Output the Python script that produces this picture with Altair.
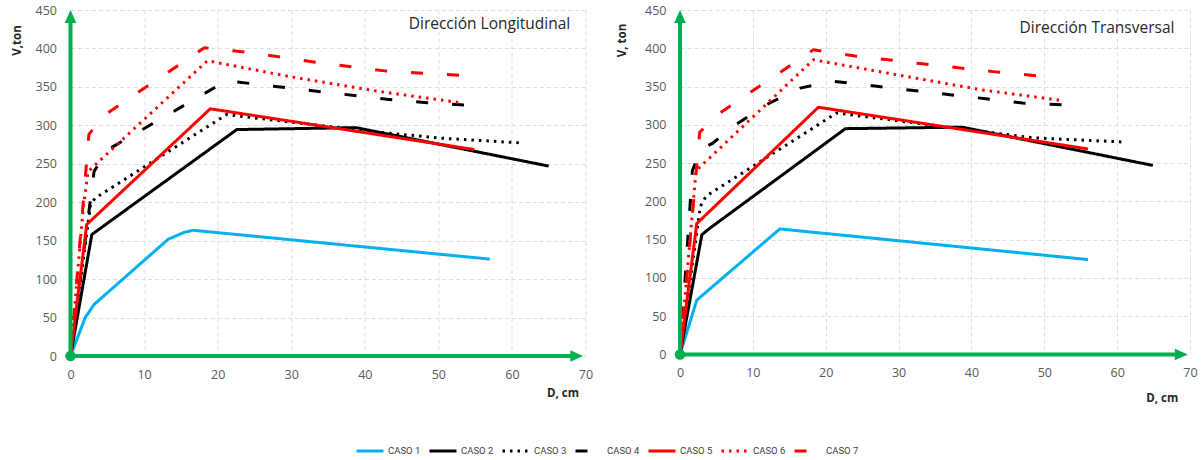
import altair as alt
import pandas as pd

# Series names and styles
CASOS = ["CASO 1", "CASO 2", "CASO 3", "CASO 4", "CASO 5", "CASO 6", "CASO 7"]
COLORES = ["#00B0F0", "#000000", "#000000", "#000000", "#FF0000", "#FF0000", "#FF0000"]
TRAZOS = [[1, 0], [1, 0], [2.5, 5], [12, 24], [1, 0], [2.5, 5], [12, 24]]

# Pushover curves, longitudinal direction: (D [cm], V [ton])
long_caso1 = [(0, 0), (2.0, 50), (3.2, 67), (13.3, 152), (15.5, 161), (16.7, 163.5), (57, 126)]
long_caso2 = [(0, 0), (2.9, 158), (22.6, 294.5), (38.8, 297), (65, 247)]
long_caso3 = [(0, 0), (2.7, 195), (3.3, 205), (21.2, 314), (40, 293), (50, 283.5), (61.5, 277)]
long_caso4 = [(0, 0), (3.2, 240), (5.0, 268), (21.2, 358), (32, 346), (43, 334), (48.5, 329.5), (54.3, 326)]
long_caso5 = [(0, 0), (2.2, 171), (19, 321.5), (54.9, 268.5)]
long_caso6 = [(0, 0), (1.7, 190), (2.4, 240), (18.6, 384), (30, 363), (42, 344), (52.9, 329.5)]
long_caso7 = [(0, 0), (2.5, 288), (4.4, 312), (18.2, 401), (24, 395), (33, 382.5), (43, 370.5), (54, 364.5)]

# Pushover curves, transverse direction: (D [cm], V [ton])
trans_caso1 = [(0, 0), (2.3, 71), (13.7, 164), (56, 124)]
trans_caso2 = [(0, 0), (3.0, 156.5), (4.1, 165), (22.7, 295), (38.7, 297), (64.9, 247)]
trans_caso3 = [(0, 0), (2.8, 194), (3.6, 207), (21.5, 315.5), (40, 293), (48.5, 283), (61, 277.5)]
trans_caso4 = [(0, 0), (1.7, 240), (2.8, 268), (4.5, 276), (7.3, 298), (11.9, 326.5), (16.5, 348),
               (21, 357), (31, 346), (42, 334), (47, 328.5), (53, 326)]
trans_caso5 = [(0, 0), (2.3, 171), (19, 323), (56, 268.5)]
trans_caso6 = [(0, 0), (2.2, 240), (18.3, 385), (30, 365), (41.2, 346), (52.2, 332)]
trans_caso7 = [(0, 0), (2.7, 290), (4.8, 311), (18.3, 398), (24, 390), (33, 380), (43, 369.5), (49.5, 363.5)]

X_MAX = 70
Y_MAX = 450
VERDE = "#00B050"
FUENTE = "Open Sans"


def tabla(curvas):
    filas = []
    for caso, puntos in zip(CASOS, curvas):
        for i, (d, v) in enumerate(puntos):
            filas.append({"caso": caso, "D": d, "V": v, "orden": i})
    return pd.DataFrame(filas)


def panel(curvas, titulo, ytitulo, ancho, alto, tx, ty, ytx, yty, xtx, xty):
    df = tabla(curvas)
    x_axis = alt.Axis(values=list(range(0, X_MAX + 1, 10)), title="D, cm", labelFlush=False,
                      titleX=xtx, titleY=xty, titleAlign="center", titleBaseline="middle")
    y_axis = alt.Axis(values=list(range(0, Y_MAX + 1, 50)), title=ytitulo, labelFlush=False,
                      titleX=ytx, titleY=yty, titleAngle=270, titleAlign="center",
                      titleBaseline="middle")
    xs = alt.Scale(domain=[0, X_MAX], nice=False)
    ys = alt.Scale(domain=[0, Y_MAX], nice=False)

    def ex():
        return alt.X("D:Q", scale=xs, axis=x_axis)

    def ey():
        return alt.Y("V:Q", scale=ys, axis=y_axis)

    lineas = alt.Chart(df).mark_line(strokeWidth=3).encode(
        x=ex(),
        y=ey(),
        color=alt.Color("caso:N", scale=alt.Scale(domain=CASOS, range=COLORES),
                        legend=alt.Legend(title=None)),
        strokeDash=alt.StrokeDash("caso:N", scale=alt.Scale(domain=CASOS, range=TRAZOS),
                                  legend=alt.Legend(title=None)),
        detail="caso:N",
        order="orden:Q",
    )

    # green axes with arrowheads and a dot at the origin
    eje_x = alt.Chart(pd.DataFrame({"D": [0], "D2": [X_MAX - 1.2], "V": [0]})).mark_rule(
        color=VERDE, strokeWidth=4).encode(x=ex(), x2="D2:Q", y=ey())
    eje_y = alt.Chart(pd.DataFrame({"D": [0], "V": [0], "V2": [Y_MAX - 12]})).mark_rule(
        color=VERDE, strokeWidth=4).encode(x=ex(), y=ey(), y2="V2:Q")
    flecha_x = alt.Chart(pd.DataFrame({"D": [X_MAX - 0.3], "V": [0]})).mark_point(
        shape="M0,0L-2,-0.9L-2,0.9Z", filled=True, color=VERDE, opacity=1, size=169).encode(
        x=ex(), y=ey())
    flecha_y = alt.Chart(pd.DataFrame({"D": [0], "V": [Y_MAX]})).mark_point(
        shape="M0,0L-0.9,2L0.9,2Z", filled=True, color=VERDE, opacity=1, size=169).encode(
        x=ex(), y=ey())
    origen = alt.Chart(pd.DataFrame({"D": [0], "V": [0]})).mark_circle(
        color=VERDE, opacity=1, size=110).encode(x=ex(), y=ey())

    rotulo = alt.Chart(pd.DataFrame({"t": [titulo]})).mark_text(
        font=FUENTE, fontSize=15.5, color="#262626", align="center", baseline="middle").encode(
        text="t:N", x=alt.value(tx), y=alt.value(ty))

    return alt.layer(lineas, eje_x, eje_y, flecha_x, flecha_y, origen, rotulo).properties(
        width=ancho, height=alto)


izq = panel([long_caso1, long_caso2, long_caso3, long_caso4, long_caso5, long_caso6, long_caso7],
            "Dirección Longitudinal", "V,ton", 515, 346, 419, 14, -52.7, 30, 492, 37)
der = panel([trans_caso1, trans_caso2, trans_caso3, trans_caso4, trans_caso5, trans_caso6, trans_caso7],
            "Dirección Transversal", "V, ton", 510, 344.5, 417, 18, -58, 30, 481.7, 44)

chart = alt.hconcat(izq, der, spacing=94.5).properties(
    bounds="flush", padding={"left": 11.5, "top": 4, "right": 5, "bottom": 5}
).configure_view(stroke=None).configure_axis(
    domain=False, ticks=False, grid=True, gridColor="#DDDDDD", gridDash=[4, 3], gridWidth=1,
    labelFont=FUENTE, labelFontSize=12.5, labelColor="#595959",
    titleFont=FUENTE, titleFontSize=11.5, titleFontWeight="bold", titleColor="#262626",
).configure_axisY(labelPadding=14).configure_axisX(labelPadding=12).configure_legend(
    orient="none", legendX=284.5, legendY=426, direction="horizontal",
    symbolType="stroke", symbolSize=729, symbolStrokeWidth=3,
    labelFont="Roboto", labelFontSize=9.5, labelColor="#404040",
    labelOffset=3, columnPadding=2,
)

chart.save("out.html", embed_options={"renderer": "svg", "actions": False})
